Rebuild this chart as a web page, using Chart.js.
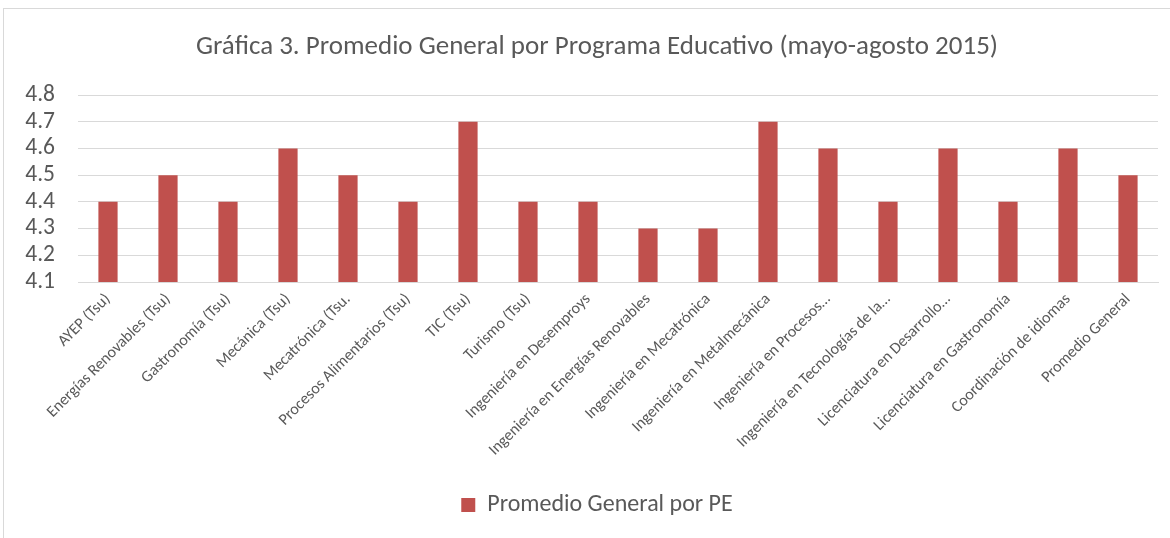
<!DOCTYPE html>
<html><head><meta charset="utf-8">
<script src="https://cdn.jsdelivr.net/npm/chart.js@4"></script>
<style>
html,body{margin:0;padding:0;background:#fff;}
#c{position:absolute;left:0;top:0;display:block;}
#frame{position:absolute;left:3px;top:8px;width:1166px;height:540px;border-left:1px solid #d9d9d9;border-top:1px solid #d9d9d9;border-right:1px solid #d9d9d9;pointer-events:none;}
</style></head><body>
<canvas id="c" width="1170" height="538"></canvas>
<div id="frame"></div>
<script>
const categories = ["AYEP (Tsu)","Energías Renovables (Tsu)","Gastronomía (Tsu)","Mecánica (Tsu)","Mecatrónica (Tsu.","Procesos Alimentarios (Tsu)","TIC (Tsu)","Turismo (Tsu)","Ingeniería en Desemproys","Ingeniería en Energías Renovables","Ingeniería en Mecatrónica","Ingeniería en Metalmecánica","Ingeniería en Procesos…","Ingeniería en Tecnologías de la…","Licenciatura en Desarrollo…","Licenciatura en Gastronomía","Coordinación de idiomas","Promedio General"];
const values = [4.4,4.5,4.4,4.6,4.5,4.4,4.7,4.4,4.4,4.3,4.3,4.7,4.6,4.4,4.6,4.4,4.6,4.5];
const seriesName = "Promedio General por PE";
const titleText = "Gráfica 3. Promedio General por Programa Educativo (mayo-agosto 2015)";
const yTicks = [4.1,4.2,4.3,4.4,4.5,4.6,4.7,4.8];
const FONT = "Carlito, 'Open Sans', sans-serif";
new Chart(document.getElementById('c'), {
  type: 'bar',
  data: { labels: categories, datasets: [{ label: seriesName, data: values, backgroundColor: '#C0504D', borderWidth: 0, categoryPercentage: 1, barPercentage: 0.32 }] },
  options: {
    responsive: false, animation: false, maintainAspectRatio: false,
    layout: { padding: { left: 24, right: 0, top: 31, bottom: 11 } },
    plugins: {
      title: { display: true, text: titleText, color: '#595959', font: { family: FONT, size: 27, weight: 'normal', lineHeight: 1.2 }, padding: { top: 0, bottom: 31.6 } },
      legend: { position: 'bottom', labels: { color: '#595959', font: { family: FONT, size: 24 }, boxWidth: 14, boxHeight: 14, padding: 10 } },
      tooltip: { enabled: false }
    },
    scales: {
      x: { grid: { display: false, drawTicks: false }, border: { color: '#d9d9d9' },
           afterFit: (ax) => { ax.height = 201; },
           ticks: { color: '#595959', font: { family: FONT, size: 16 }, minRotation: 45, maxRotation: 45, autoSkip: false, padding: 8 } },
      y: { min: 4.1, max: 4.8, afterBuildTicks: (ax) => { ax.ticks = yTicks.map(v => ({ value: v })); },
           afterFit: (ax) => { ax.width = 54; },
           grid: { color: '#d9d9d9', drawTicks: false }, border: { display: false },
           ticks: { color: '#595959', font: { family: FONT, size: 23.5 }, padding: 23, autoSkip: false, callback: v => v.toFixed(1) } },
      yPad: { position: 'right', display: true, afterFit: (ax) => { ax.width = 12; },
           grid: { display: false, drawTicks: false }, border: { display: false }, ticks: { display: false } }
    }
  }
});
</script></body></html>
